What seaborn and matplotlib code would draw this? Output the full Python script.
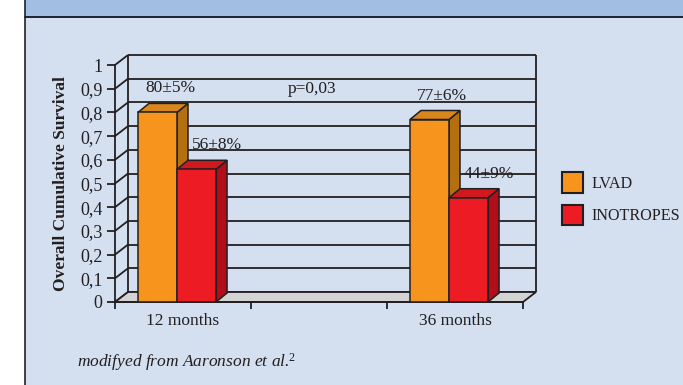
import matplotlib
matplotlib.use("Agg")
import matplotlib.pyplot as plt
from matplotlib.patches import Polygon, Rectangle, Patch
from matplotlib.lines import Line2D
import seaborn as sns
import pandas as pd

# ---- data ----
periods = ["12 months", " ", "36 months"]
therapies = ["LVAD", "INOTROPES"]
lvad_survival = [0.80, 0.77]
lvad_err = [5, 6]
inotropes_survival = [0.56, 0.44]
inotropes_err = [8, 9]
measured_periods = ["12 months", "36 months"]
y_ticks = [0, 0.1, 0.2, 0.3, 0.4, 0.5, 0.6, 0.7, 0.8, 0.9, 1.0]
p_value_text = "p=0,03"
source_note = "modifyed from Aaronson et al.$^{2}$"

df = pd.DataFrame({
    "period": measured_periods * 2,
    "therapy": [therapies[0]] * 2 + [therapies[1]] * 2,
    "survival": lvad_survival + inotropes_survival,
    "err": lvad_err + inotropes_err,
})

# ---- style ----
BG = "#d4dff0"
STRIP = "#a3bee3"
INK = "#231f20"
FLOOR = "#d3d3d3"
front_cols = {"LVAD": "#f7941e", "INOTROPES": "#ed1c24"}
top_cols = {"LVAD": "#d9871d", "INOTROPES": "#d2181f"}
side_cols = {"LVAD": "#b4700f", "INOTROPES": "#b00f19"}

sns.set_theme(style="white")
plt.rcParams["font.family"] = ["Liberation Serif", "DejaVu Serif"]
plt.rcParams["mathtext.fontset"] = "custom"
plt.rcParams["mathtext.rm"] = "Liberation Serif"
plt.rcParams["mathtext.it"] = "Liberation Serif:italic"
plt.rcParams["text.color"] = INK

W, H, DPI = 683, 385, 100
fig = plt.figure(figsize=(W / DPI, H / DPI), dpi=DPI, facecolor="white")

# panel background, header strip and borders
fig.patches.append(Rectangle((25 / W, 0), 1 - 25 / W, 1, transform=fig.transFigure,
                             facecolor=BG, edgecolor="none", zorder=-10))
fig.patches.append(Rectangle((25 / W, 1 - 17 / H), 1 - 25 / W, 17 / H, transform=fig.transFigure,
                             facecolor=STRIP, edgecolor="none", zorder=-9))
fig.lines.append(Line2D([25 / W, 1], [1 - 17 / H, 1 - 17 / H], transform=fig.transFigure,
                        color="#1e2230", lw=1.4, zorder=-8))
fig.lines.append(Line2D([25 / W, 25 / W], [0, 1], transform=fig.transFigure,
                        color="#1e2230", lw=1.2, zorder=-8))

ax_left, ax_bottom, ax_w, ax_h = 115, 83, 408, 237
ax = fig.add_axes([ax_left / W, ax_bottom / H, ax_w / W, ax_h / H])
ax.set_facecolor("none")

sns.barplot(data=df, x="period", y="survival", hue="therapy", order=periods,
            hue_order=therapies, palette=[front_cols[t] for t in therapies],
            width=0.574, saturation=1, errorbar=None, edgecolor=INK, linewidth=1.1,
            legend=False, ax=ax)

ax.set_xlim(-0.5, 2.5)
ax.set_ylim(0, 1)

# pixel -> data conversions for the 3D depth
px_x = 3.0 / ax_w
px_y = 1.0 / ax_h
wall_dx, wall_dy = 13 * px_x, 10 * px_y
bar_dx, bar_dy = 11 * px_x, 9 * px_y

line_kw = dict(color=INK, lw=1.3, clip_on=False, solid_capstyle="butt")

# back wall gridlines, left side wall diagonals
for v in y_ticks:
    ax.plot([-0.5 + wall_dx, 2.5 + wall_dx], [v + wall_dy, v + wall_dy], zorder=1, **line_kw)
    ax.plot([-0.5, -0.5 + wall_dx], [v, v + wall_dy], zorder=1, **line_kw)
ax.plot([-0.5 + wall_dx] * 2, [wall_dy, 1 + wall_dy], zorder=1, **line_kw)
ax.plot([2.5 + wall_dx] * 2, [wall_dy, 1 + wall_dy], zorder=1, **line_kw)

# floor
ax.add_patch(Polygon([(-0.5, 0), (2.5, 0), (2.5 + wall_dx, wall_dy), (-0.5 + wall_dx, wall_dy)],
                     closed=True, facecolor=FLOOR, edgecolor=INK, lw=1.3, zorder=1.5,
                     clip_on=False))

# 3D tops and sides for each bar, labels above
label_shift = {"LVAD": 7, "INOTROPES": 15}
for i, (container, therapy) in enumerate(zip(ax.containers, therapies)):
    sub = df[df["therapy"] == therapy]
    z = 3 + 2 * i
    for bar, (_, row) in zip(container.patches, sub.iterrows()):
        bar.set_x(bar.get_x() - 6 * px_x)
        bar.set_zorder(z + 1)
        x0, w, h = bar.get_x(), bar.get_width(), bar.get_height()
        side = Polygon([(x0 + w, 0), (x0 + w, h), (x0 + w + bar_dx, h + bar_dy),
                        (x0 + w + bar_dx, bar_dy)], closed=True,
                       facecolor=side_cols[therapy], edgecolor=INK, lw=1.1, zorder=z)
        top = Polygon([(x0, h), (x0 + w, h), (x0 + w + bar_dx, h + bar_dy),
                       (x0 + bar_dx, h + bar_dy)], closed=True,
                      facecolor=top_cols[therapy], edgecolor=INK, lw=1.1, zorder=z)
        ax.add_patch(side)
        ax.add_patch(top)
        ax.annotate(f"{round(row['survival'] * 100)}\u00b1{row['err']}%",
                    xy=(x0 + w / 2 + bar_dx / 2, h + bar_dy),
                    xytext=(label_shift[therapy], 15), textcoords="offset pixels",
                    ha="center", va="center", fontsize=12.5, color=INK, zorder=10)

ax.text(0.95, 0.9, p_value_text, ha="center", va="center", fontsize=12.5, color=INK)

# axes: front y axis and floor front edge
for s in ["top", "right"]:
    ax.spines[s].set_visible(False)
for s in ["left", "bottom"]:
    ax.spines[s].set_visible(True)
    ax.spines[s].set_color(INK)
    ax.spines[s].set_linewidth(1.3)
    ax.spines[s].set_zorder(2)

ax.set_yticks(y_ticks)
ax.set_yticklabels([f"{v:g}".replace(".", ",") for v in y_ticks])
ax.tick_params(axis="y", direction="out", length=6, width=1.3, color=INK, pad=3,
               labelsize=13, labelcolor=INK, left=True)
ax.set_xticks([0, 1, 2])
ax.set_xticklabels(periods)
ax.set_xticks([-0.5, 0.5, 1.5, 2.5], minor=True)
ax.tick_params(axis="x", which="major", length=0, pad=8, labelsize=12.5, labelcolor=INK)
ax.tick_params(axis="x", which="minor", direction="out", length=5, width=1.3, color=INK,
               bottom=True)
ax.set_xlabel("")
ax.set_ylabel("Overall Cumulative Survival", fontsize=12.5, fontweight="bold", color=INK,
              labelpad=8)

# legend
handles = [Patch(facecolor=front_cols[t], edgecolor=INK, lw=1.5) for t in therapies]
fig.legend(handles, therapies, loc="upper left", bbox_to_anchor=(562 / W, 1 - 172 / H),
           frameon=False, fontsize=11.6, borderpad=0, borderaxespad=0,
           handlelength=1.3, handleheight=1.6, labelspacing=0.75, handletextpad=0.5)

fig.text(77 / W, 1 - 362 / H, source_note, fontsize=12.5, style="italic", color=INK,
         ha="left", va="center")

fig.savefig("out.png", dpi=DPI, facecolor="white")
